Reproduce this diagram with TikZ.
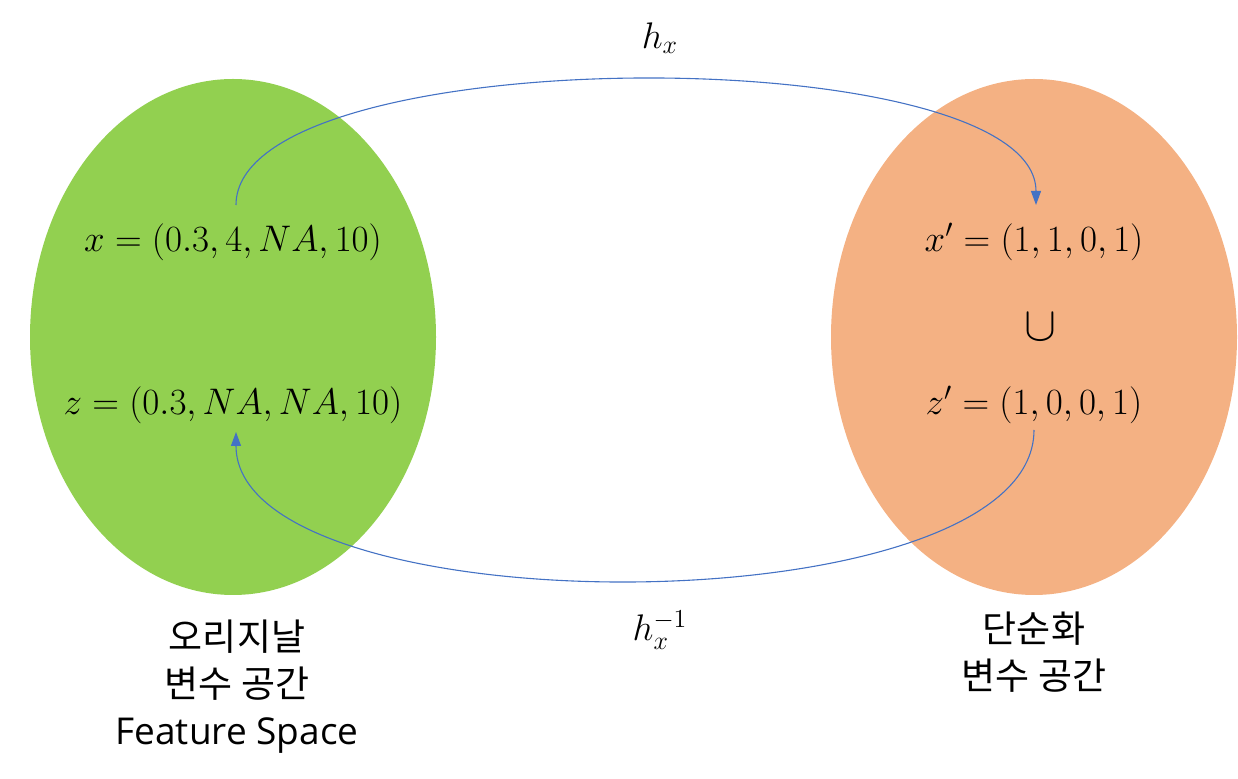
\RequirePackage{fix-cm}
\documentclass[tikz,border=0pt]{standalone}
\usepackage{fontspec}
\setmainfont{Open Sans}
\newfontfamily\kofont{Noto Sans CJK KR}
\usetikzlibrary{shapes.geometric,arrows.meta}
\definecolor{grn}{HTML}{92D050}
\definecolor{org}{HTML}{F4B183}
\definecolor{arr}{HTML}{4472C4}
\begin{document}
\begin{tikzpicture}[x=0.5pt,y=-0.5pt,
  blob/.style={ellipse,inner sep=0pt,minimum width=203pt,minimum height=258pt},
  mth/.style={inner sep=0pt,font=\fontsize{18.5}{22}\selectfont},
  lbl/.style={inner sep=0pt,align=center,font=\fontsize{18.5}{23.5}\selectfont},
  conn/.style={draw=arr,line width=0.55pt,-{Triangle[length=7pt,width=5pt]}}]
\useasboundingbox (0,0) rectangle (1238,779);
\node[blob,fill=grn] (L) at (233,337) {};
\node[blob,fill=org] (R) at (1034,337) {};
\node[mth] (x) at (233,242) {$x = (0.3, 4, NA, 10)$};
\node[mth] (z) at (233,405) {$z = (0.3, NA, NA, 10)$};
\node[mth] (xp) at (1034,242) {$x' = (1, 1, 0, 1)$};
\node[mth,font=\fontsize{24}{28}\selectfont] (u) at (1040,327) {$\cup$};
\node[mth] (zp) at (1034,405) {$z' = (1, 0, 0, 1)$};
\node[mth] (hx) at (660,38) {$h_x$};
\node[mth] (hinv) at (660,630) {$h_x^{-1}$};
\node[lbl,anchor=north] (ll) at (237,620) {{\kofont 오리지날}\\{\kofont 변수 공간}\\Feature Space};
\node[lbl,anchor=north] (rl) at (1034,612) {{\kofont 단순화}\\{\kofont 변수 공간}};
\coordinate (s1) at (236,205);
\coordinate (e1) at (1036,205);
\coordinate (s2) at (1034,430);
\coordinate (e2) at (236,432);
\draw[conn] (s1) .. controls (236,38) and (1036,38) .. (e1);
\draw[conn] (s2) .. controls (1034,630) and (236,630) .. (e2);
\end{tikzpicture}
\end{document}
